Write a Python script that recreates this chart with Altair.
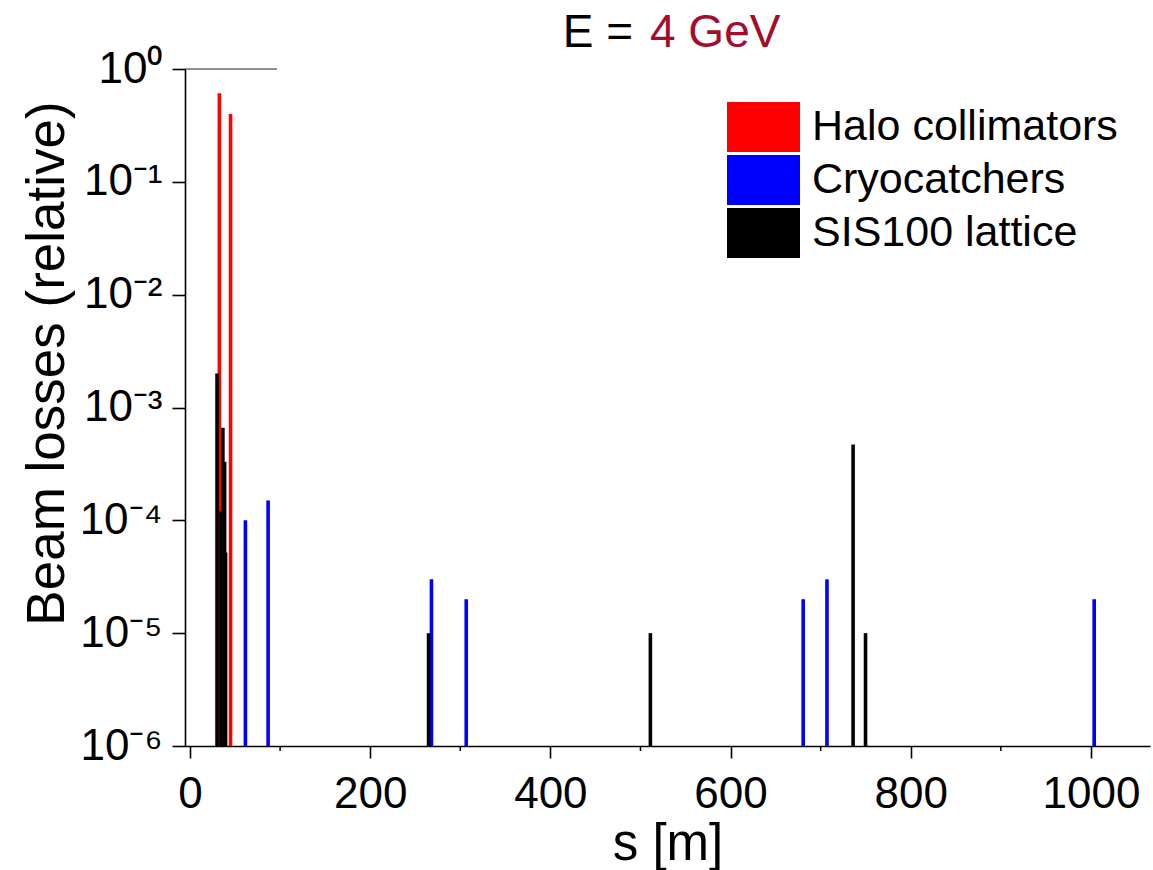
import altair as alt
import pandas as pd

# ---- data ----
halo_s = [32.6, 45.0]
halo_v = [0.61, 0.40]

cryo_s = [61.5, 86.7, 268.0, 306.6, 680.6, 707.0, 1003.6]
cryo_v = [1.0e-4, 1.5e-4, 3.0e-5, 2.0e-5, 2.0e-5, 3.0e-5, 2.0e-5]

lattice_s = [30.0, 34.4, 36.5, 38.4, 39.5, 264.8, 511.0, 736.0, 749.8]
lattice_v = [2.0e-3, 1.2e-4, 6.6e-4, 3.3e-4, 5.2e-5, 1.0e-5, 1.0e-5, 4.7e-4, 1.0e-5]

categories = ["Halo collimators", "Cryocatchers", "SIS100 lattice"]
colors = ["#ff0000", "#0000ff", "#000000"]

x_major = [0, 200, 400, 600, 800, 1000]
x_minor = [100, 300, 500, 700, 900]
y_ticks = [1e-6, 1e-5, 1e-4, 1e-3, 1e-2, 1e-1, 1]

title_left = "E ="
title_right = "4 GeV"
base_value = 1e-6

FONT = "Liberation Sans, Arial, Helvetica, sans-serif"

rows = []
for name, ss, vv in [(categories[0], halo_s, halo_v),
                     (categories[1], cryo_s, cryo_v),
                     (categories[2], lattice_s, lattice_v)]:
    for s, v in zip(ss, vv):
        rows.append({"s": s, "loss": v, "base": base_value, "kind": name})
df = pd.DataFrame(rows)

W, H = 965, 677
x_scale = alt.Scale(domain=[0, 1060], nice=False, zero=False)
y_scale = alt.Scale(type="log", domain=[1e-6, 1], nice=False)

label_expr = (
    "datum.value >= 0.5 ? '10⁰' : datum.value >= 0.05 ? '10⁻¹' : "
    "datum.value >= 0.005 ? '10⁻²' : datum.value >= 0.0005 ? '10⁻³' : "
    "datum.value >= 0.00005 ? '10⁻⁴' : datum.value >= 0.000005 ? '10⁻⁵' : '10⁻⁶'"
)

bars = alt.Chart(df).mark_bar(size=3.6).encode(
    x=alt.X("s:Q", scale=x_scale,
            axis=alt.Axis(values=x_major, title="s [m]", format="d",
                          tickSize=12, labelPadding=14, labelFontSize=44,
                          titleY=113, titleBaseline="alphabetic",
                          titleFontSize=51)),
    y=alt.Y("loss:Q", scale=y_scale,
            axis=alt.Axis(values=y_ticks, title="Beam losses (relative)",
                          labelExpr=label_expr, tickSize=13, labelPadding=10,
                          labelFontSize=44,
                          titleX=-122, titleY=294, titleAngle=-90,
                          titleFontSize=53,
                          titleBaseline="alphabetic", titleAlign="center")),
    y2=alt.Y2("base:Q"),
    color=alt.Color("kind:N",
                    scale=alt.Scale(domain=categories, range=colors),
                    legend=alt.Legend(title=None, orient="none",
                                      legendX=553.5, legendY=33,
                                      symbolType="M-1.46,-1H1.46V1H-1.46Z",
                                      symbolSize=2500, symbolStrokeWidth=0,
                                      symbolOpacity=1, labelLimit=600,
                                      labelFontSize=43, labelOffset=23.5,
                                      rowPadding=3, padding=0,
                                      labelFont=FONT, labelColor="#000")),
)

minor = alt.Chart(pd.DataFrame({"m": x_minor})).mark_rule(
    color="#000", strokeWidth=1.5
).encode(
    x=alt.X("m:Q", scale=x_scale),
    y=alt.value(H),
    y2=alt.value(H + 5),
)

# short visible piece of the top frame (the rest is hidden behind the title box)
top_frame = alt.Chart(pd.DataFrame({"a": [0]})).mark_rule(
    color="#222", strokeWidth=1
).encode(x=alt.value(0), x2=alt.value(92), y=alt.value(0))

t1 = alt.Chart(pd.DataFrame({"t": [title_left]})).mark_text(
    font=FONT, fontSize=46, align="right", baseline="alphabetic", color="#000"
).encode(text="t:N", x=alt.value(448), y=alt.value(-22))

t2 = alt.Chart(pd.DataFrame({"t": [title_right]})).mark_text(
    font=FONT, fontSize=46, align="left", baseline="alphabetic", color="#a20d2c"
).encode(text="t:N", x=alt.value(465), y=alt.value(-22))

chart = alt.layer(bars, minor, top_frame, t1, t2).properties(
    width=W, height=H,
    autosize=alt.AutoSizeParams(type="none"),
    padding={"left": 185, "top": 69, "right": 3, "bottom": 124},
).configure_view(
    stroke=None
).configure_axis(
    labelFont=FONT, titleFont=FONT,
    labelColor="#000", titleColor="#000", titleFontWeight="normal",
    domainColor="#000", tickColor="#000", domainWidth=1.6, tickWidth=1.6,
    grid=False,
)

chart.save("out.html", embed_options={"renderer": "svg", "actions": False})
